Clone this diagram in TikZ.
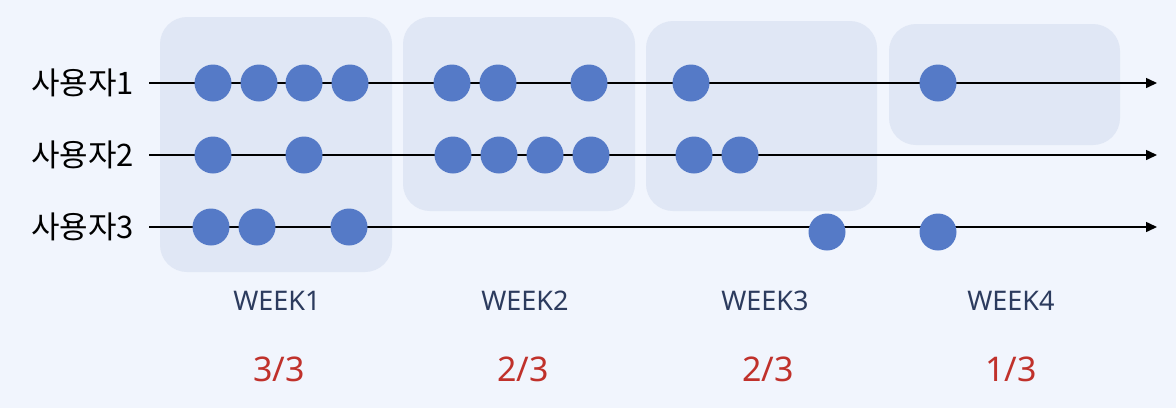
\documentclass[tikz,border=0pt]{standalone}
\usepackage{fontspec}
\setmainfont{Noto Sans}
\newfontfamily\kofont{Noto Sans CJK KR}
\usepackage{tikz}
\usetikzlibrary{arrows.meta,positioning}

\definecolor{bgblue}{HTML}{F1F5FD}
\definecolor{boxblue}{HTML}{E0E7F5}
\definecolor{dotblue}{HTML}{557AC7}
\definecolor{weeknavy}{HTML}{2C3B5E}
\definecolor{ratiored}{HTML}{C0312B}

\begin{document}
\begin{tikzpicture}[x=1pt,y=-1pt,
		weekbox/.style={fill=boxblue,rounded corners=27pt},
		timeline/.style={line width=1.5pt,-{Triangle[length=11pt,width=10pt]}},
		event/.style={circle,fill=dotblue,inner sep=0pt,minimum size=37pt},
		userlabel/.style={font=\kofont\fontsize{31}{33}\selectfont,inner sep=0pt},
		weeklabel/.style={font=\fontsize{27}{30}\selectfont,text=weeknavy},
		ratio/.style={font=\fontsize{34}{38}\selectfont,text=ratiored}]
		\fill[bgblue] (0,0) rectangle (1176,408);
		\useasboundingbox (0,0) rectangle (1176,408);
		% week boxes
		\fill[weekbox] (160,17) rectangle (392,272);
		\fill[weekbox] (403,17) rectangle (635,211);
		\fill[weekbox] (646,21) rectangle (877,211);
		\fill[weekbox] (889,24) rectangle (1120,145);
		% timelines
		\coordinate (s1) at (149,83);
		\coordinate (s2) at (149,155);
		\coordinate (s3) at (149,227);
		\coordinate (e1) at (1157,83);
		\coordinate (e2) at (1157,155);
		\coordinate (e3) at (1157,227);
		\node[userlabel,left=15pt of s1] (user1) {사용자1};
		\node[userlabel,left=15pt of s2] (user2) {사용자2};
		\node[userlabel,left=15pt of s3] (user3) {사용자3};
		\draw[timeline] (s1) -- (e1);
		\draw[timeline] (s2) -- (e2);
		\draw[timeline] (s3) -- (e3);
		% events, user 1
		\node[event] (u1a) at (213,83) {};
		\node[event] (u1b) at (259,83) {};
		\node[event] (u1c) at (304,83) {};
		\node[event] (u1d) at (350,83) {};
		\node[event] (u1e) at (452,83) {};
		\node[event] (u1f) at (498,83) {};
		\node[event] (u1g) at (589,83) {};
		\node[event] (u1h) at (691,83) {};
		\node[event] (u1i) at (938,83) {};
		% events, user 2
		\node[event] (u2a) at (213,155) {};
		\node[event] (u2b) at (304,155) {};
		\node[event] (u2c) at (453,155) {};
		\node[event] (u2d) at (499,155) {};
		\node[event] (u2e) at (545,155) {};
		\node[event] (u2f) at (591,155) {};
		\node[event] (u2g) at (694,155) {};
		\node[event] (u2h) at (740,155) {};
		% events, user 3
		\node[event] (u3a) at (211,227) {};
		\node[event] (u3b) at (257,227) {};
		\node[event] (u3c) at (349,227) {};
		\node[event] (u3d) at (827,232) {};
		\node[event] (u3e) at (938,232) {};
		% weeks and ratios
		\node[weeklabel] (week1) at (277,301) {WEEK1};
		\node[weeklabel] (week2) at (525,301) {WEEK2};
		\node[weeklabel] (week3) at (765,301) {WEEK3};
		\node[weeklabel] (week4) at (1011,301) {WEEK4};
		\node[ratio] (ratio1) at (279,369) {3/3};
		\node[ratio] (ratio2) at (523,369) {2/3};
		\node[ratio] (ratio3) at (768,369) {2/3};
		\node[ratio] (ratio4) at (1011,369) {1/3};
	\end{tikzpicture}
\end{document}
